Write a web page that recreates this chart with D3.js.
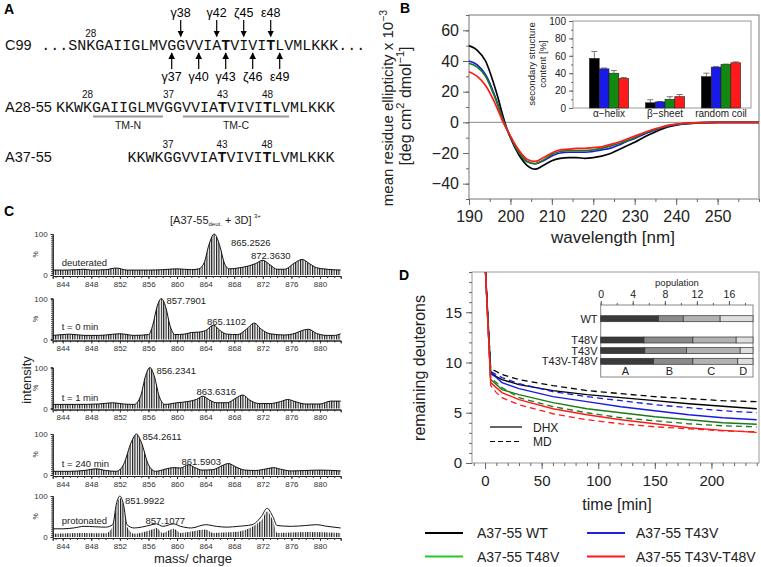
<!DOCTYPE html>
<html><head><meta charset="utf-8">
<script src="https://cdn.jsdelivr.net/npm/d3@7"></script>
<style>body{margin:0;background:#fff} svg{display:block;font-family:"Liberation Sans",Arial,sans-serif}</style>
</head><body><svg id="c" width="761" height="567"></svg>
<script>
// ---------------- DATA ----------------
// Panel A: sequences
const seqNames = ["C99", "A28-55", "A37-55"];
const seqStrings = ["...SNKGAIIGLMVGGVVIATVIVITLVMLKKK...", "KKWKGAIIGLMVGGVVIATVIVITLVMLKKK", "KKWKGGVVIATVIVITLVMLKKK"];
const seqFirstResidue = [23, 25, 33];
const seqNumberLabels = [[28], [28, 37, 43, 48], [37, 43, 48]];
const boldResidues = [43, 48];
const cleavageAbove = [["γ38", 38], ["γ42", 42], ["ζ45", 45], ["ε48", 48]];
const cleavageBelow = [["γ37", 37], ["γ40", 40], ["γ43", 43], ["ζ46", 46], ["ε49", 49]];
const tmSegments = [["TM-N", 29, 36], ["TM-C", 39, 50]];

// Panel B: CD spectra
const wavelength = [190,192,194,196,197,198,199,200,202,204,206,208,210,212,214,216,218,220,222,224,226,228,230,232,234,236,238,240,242,245,250,255,260];
const cdWT    = [50,47,40,25,16,6,-3,-10,-21,-28,-30.5,-28,-25,-23.5,-23,-23,-23.5,-23,-22,-20.5,-18,-15.5,-13,-10,-7.5,-5,-3,-1.8,-1,-0.4,0,0,0];
const cdT43V  = [40,37.5,31,19,11.5,3.5,-3.5,-9.5,-19.5,-25.5,-27,-25,-22,-20,-19.5,-19.5,-19.5,-19,-18,-17,-15,-12.5,-10.5,-8,-6,-4,-2.5,-1.5,-0.8,-0.3,0,0,0];
const cdT48V  = [38.5,36,30,18,11,3,-3.5,-9.5,-19.5,-25.5,-27,-24.5,-21,-19,-18.5,-18.5,-18.5,-18,-17,-15.5,-14,-12,-10,-7.5,-5.5,-3.8,-2.3,-1.4,-0.7,-0.3,0,0,0];
const cdDouble= [33,30,24,14,8,1.5,-4,-9,-18,-24,-25.5,-23,-20,-18,-17.5,-17,-17,-16.5,-16,-14.5,-13,-11,-9,-7,-5,-3.5,-2,-1.2,-0.6,-0.2,0,0,0];
const seriesNames = ["A37-55 WT", "A37-55 T43V", "A37-55 T48V", "A37-55 T43V-T48V"];
const seriesColors = ["#000000", "#1a1ae6", "#1a7a1a", "#ff1a1a"];
const legendColors = ["#000000", "#2020e0", "#22cc22", "#ff1a1a"];

// Panel B inset: secondary structure content
const structCats = ["α−helix", "β−sheet", "random coil"];
const structWT     = [57, 6, 36];
const structT43V   = [45, 7, 47];
const structT48V   = [40, 10, 50];
const structDouble = [34, 13, 52];
const structErrWT     = [65, 9.5, 40];
const structErrT43V   = [46, 7.5, 47.5];
const structErrT48V   = [43, 13, 50.5];
const structErrDouble = [35, 15.5, 53];

// Panel C: mass spectra envelopes [m/z, %]
const specDeuterated = [[842.6,12],[844,12],[846,13],[847,14],[848,12],[850,13],[851.5,17],[853,12],[856,12],[858,13],[860,15],[862,13],[863,15],[863.8,30],[864.4,70],[865.2,100],[866,70],[866.6,30],[867.3,15],[868.5,17],[870,22],[871,28],[872,36],[873,25],[874,14],[875,14],[876.5,30],[877.5,38],[878.5,28],[879.5,18],[881,14],[882.9,12]];
const specT0 = [[842.6,10],[844,12],[845,13],[847,10],[849,10],[850,11],[852,14],[854,10],[856,12],[856.6,35],[857.2,80],[857.8,100],[858.4,80],[859,35],[859.7,12],[861,13],[862,17],[863,18],[864,22],[865.1,35],[866,22],[867,13],[868.5,12],[869.7,25],[870.8,40],[871.8,25],[873,14],[875,11],[876.5,15],[877.5,22],[878.4,25],[879.5,15],[881,10],[882,10],[882.9,14]];
const specT1 = [[842.6,10],[846,10],[849,11],[851,14],[852.5,11],[854,10],[854.9,30],[855.6,80],[856.2,100],[856.8,80],[857.5,30],[858.3,10],[860,14],[861.5,17],[862.7,22],[863.6,30],[864.6,20],[865.5,14],[867,14],[868.2,25],[869.2,33],[870.2,20],[871.5,12],[873,12],[874.5,17],[875.5,22],[876.5,17],[878,11],[880,11],[881.5,18],[882.9,18]];
const specT240 = [[842.6,9],[845,9],[847,11],[848.7,15],[850,11],[851.5,9],[852.5,25],[853.6,80],[854.3,100],[855,80],[856,25],[857,9],[858.5,15],[859.5,18],[860.5,17],[861.6,25],[862.5,18],[863.5,12],[865,13],[866.2,22],[867.2,28],[868.2,20],[869.5,12],[871,11],[872.5,15],[873.5,18],[874.5,14],[876,10],[878,11],[880,12],[882.9,10]];
const specProtEnvelope = [[842.6,20],[844,20],[845.5,22],[847,26],[848.5,25],[850,24],[851,30],[851.5,80],[852,100],[852.5,80],[853,30],[854,22],[855,24],[856.5,30],[857.1,32],[858,26],[859.5,32],[860.5,26],[862,22],[864,30],[865.5,26],[867,24],[868.5,26],[870.5,30],[871.8,50],[872.6,70],[873.4,50],[874,28],[876,26],[878,28],[879.5,30],[881,26],[882.9,22]];
const specProtSticks = [[842.6,8],[847,10],[850,9],[851,25],[851.5,75],[852,96],[852.5,75],[853,25],[854,8],[856.5,18],[857.1,22],[858,10],[859.5,20],[860.5,10],[864,18],[865,10],[868,12],[871.8,40],[872.6,62],[873.4,40],[874,10],[878,12],[882.9,10]];
const specConditions = ["deuterated", "t = 0 min", "t = 1 min", "t = 240 min", "protonated"];
const specPeakLabels = [["865.2526","872.3630"],["857.7901","865.1102"],["856.2341","863.6316"],["854.2611","861.5903"],["851.9922","857.1077"]];
const mzTicks = [844,848,852,856,860,864,868,872,876,880];

// Panel D: remaining deuterons
const timeMin = [0,5,10,15,30,60,90,120,150,180,210,240];
const dhxWT     = [20,9.0,8.6,8.3,7.8,7.2,6.8,6.5,6.2,5.9,5.65,5.4];
const mdWT      = [20,9.4,9.1,8.8,8.3,7.7,7.2,6.9,6.6,6.4,6.2,6.1];
const dhxT43V   = [20,8.9,8.5,8.0,7.4,6.6,6.1,5.6,5.2,4.8,4.5,4.3];
const mdT43V    = [20,9.1,8.8,8.5,7.9,7.1,6.6,6.2,5.8,5.5,5.2,5.0];
const dhxT48V   = [20,8.3,7.8,7.3,6.8,6.0,5.4,5.0,4.6,4.3,4.0,3.85];
const mdT48V    = [20,8.5,8.0,7.5,6.5,5.6,5.0,4.5,4.2,3.9,3.7,3.6];
const dhxDouble = [20,8.0,7.5,7.0,6.3,5.4,4.8,4.3,3.9,3.5,3.25,3.05];
const mdDouble  = [20,7.7,7.0,6.5,5.8,4.9,4.3,3.9,3.6,3.4,3.2,3.1];

// Panel D inset: population of deuteron classes
const popRows = ["WT", "T48V", "T43V", "T43V-T48V"];
const popClasses = ["A", "B", "C", "D"];
const popA = [7.2, 5.4, 5.5, 6.6];
const popB = [3.1, 6.1, 5.2, 4.9];
const popC = [4.6, 5.4, 6.7, 5.6];
const popD = [4.1, 2.1, 1.6, 1.9];
const popTicks = [0, 4, 8, 12, 16];

// ---------------- DRAW ----------------
const svg = d3.select("#c");
const defs = svg.append("defs");
defs.append("marker").attr("id","ah").attr("viewBox","0 0 10 10").attr("refX",9).attr("refY",5)
  .attr("markerWidth",5.5).attr("markerHeight",6).attr("markerUnits","strokeWidth").attr("orient","auto")
  .append("path").attr("d","M0,0L10,5L0,10z").attr("fill","#000");
const hatch = defs.append("pattern").attr("id","hatch").attr("patternUnits","userSpaceOnUse")
  .attr("width",2.4).attr("height",10);
hatch.append("rect").attr("width",2.4).attr("height",10).attr("fill","#fff");
hatch.append("rect").attr("width",1.1).attr("height",10).attr("fill","#111");

function panelLabel(t, x, y){
  svg.append("text").attr("x",x).attr("y",y).attr("font-size",14).attr("font-weight","bold").text(t);
}

// ===== Panel A =====
panelLabel("A", 4, 14);
const CH = 9;
const seqStart = [41.2, 56, 127.5];
const seqBase = [49.5, 111.5, 161.5];
const numBase = [36.5, 98, 148];
function seqX(r, res){ return seqStart[r] + (res - seqFirstResidue[r] + 0.5) * CH; }
seqNames.forEach((nm, r) => {
  svg.append("text").attr("x",5).attr("y",seqBase[r]).attr("font-size",14.5).attr("fill","#111").text(nm);
  const t = svg.append("text").attr("x",seqStart[r]).attr("y",seqBase[r])
    .attr("font-family","'Liberation Mono','Courier New',monospace").attr("font-size",15).attr("fill","#111");
  const s = seqStrings[r];
  let buf = "";
  for (let i = 0; i < s.length; i++){
    const res = seqFirstResidue[r] + i;
    const isBold = boldResidues.includes(res) && s[i] === "T";
    if (isBold){
      if (buf) t.append("tspan").text(buf); buf = "";
      t.append("tspan").attr("font-weight","bold").text(s[i]);
    } else buf += s[i];
  }
  if (buf) t.append("tspan").text(buf);
  seqNumberLabels[r].forEach(n => {
    svg.append("text").attr("x",seqX(r,n)).attr("y",numBase[r]).attr("text-anchor","middle")
      .attr("font-size",10).attr("fill","#111").text(n);
  });
});
cleavageAbove.forEach(([lab,res]) => {
  const x = seqX(0,res);
  svg.append("text").attr("x",x).attr("y",17).attr("text-anchor","middle").attr("font-size",12.5).text(lab);
  svg.append("line").attr("x1",x).attr("x2",x).attr("y1",20).attr("y2",36.5).attr("stroke","#000").attr("stroke-width",1.2).attr("marker-end","url(#ah)");
});
cleavageBelow.forEach(([lab,res]) => {
  const x = seqX(0,res);
  svg.append("text").attr("x",x).attr("y",81).attr("text-anchor","middle").attr("font-size",12.5).text(lab);
  svg.append("line").attr("x1",x).attr("x2",x).attr("y1",69).attr("y2",53).attr("stroke","#000").attr("stroke-width",1.2).attr("marker-end","url(#ah)");
});
tmSegments.forEach(([lab,a,b]) => {
  const x1 = seqX(1,a) - CH/2 + 1, x2 = seqX(1,b) + CH/2 - 1;
  svg.append("line").attr("x1",x1).attr("x2",x2).attr("y1",116.5).attr("y2",116.5).attr("stroke","#999").attr("stroke-width",2.2);
  svg.append("text").attr("x",(x1+x2)/2).attr("y",129).attr("text-anchor","middle").attr("font-size",10.5).attr("fill","#222").text(lab);
});

// ===== Panel B =====
panelLabel("B", 400, 13);
const bL = 469, bR = 759, bT = 15, bB = 199;
const xB = d3.scaleLinear().domain([190, 260]).range([bL, bR]);
const yB = d3.scaleLinear().domain([-50, 70]).range([bB, bT]);
const gB = svg.append("g");
gB.append("line").attr("x1",bL).attr("x2",bR).attr("y1",yB(0)).attr("y2",yB(0)).attr("stroke","#888").attr("stroke-width",1);
gB.append("rect").attr("x",bL).attr("y",bT).attr("width",bR-bL).attr("height",bB-bT).attr("fill","none").attr("stroke","#777").attr("stroke-width",1);
const axBY = gB.append("g").attr("transform",`translate(${bL},0)`)
  .call(d3.axisLeft(yB).tickValues([-40,-20,0,20,40,60]).tickSize(6).tickPadding(4));
gB.append("g").attr("transform",`translate(${bL},0)`)
  .call(d3.axisLeft(yB).tickValues(d3.range(-50,71,10)).tickSize(3).tickFormat(""));
const axBX = gB.append("g").attr("transform",`translate(0,${bB})`)
  .call(d3.axisBottom(xB).tickValues([190,200,210,220,230,240,250]).tickSize(6).tickPadding(6));
gB.append("g").attr("transform",`translate(0,${bB})`)
  .call(d3.axisBottom(xB).tickValues(d3.range(190,261,5)).tickSize(3).tickFormat(""));
gB.selectAll(".domain").remove();
gB.selectAll(".tick line").attr("stroke","#666");
[axBY, axBX].forEach(a => a.selectAll("text").attr("font-size",16).attr("fill","#222").attr("font-family","'Liberation Sans',Arial,sans-serif"));
const cdSeries = [cdWT, cdT43V, cdT48V, cdDouble];
const cdLine = d3.line().x((d,i) => xB(wavelength[i])).y(d => yB(d)).curve(d3.curveMonotoneX);
cdSeries.forEach((s,k) => {
  gB.append("path").attr("d",cdLine(s)).attr("fill","none").attr("stroke",seriesColors[k]).attr("stroke-width",1.7);
});
// axis titles
const yt = svg.append("text").attr("transform","translate(393,108) rotate(-90)").attr("text-anchor","middle").attr("font-size",15).attr("fill","#222");
yt.append("tspan").text("mean residue ellipticity x 10");
yt.append("tspan").attr("dy",-6).attr("font-size",10.5).text("−3");
const yt2 = svg.append("text").attr("transform","translate(411,106) rotate(-90)").attr("text-anchor","middle").attr("font-size",16).attr("fill","#222");
yt2.append("tspan").text("[deg cm");
yt2.append("tspan").attr("dy",-7).attr("font-size",11).text("2");
yt2.append("tspan").attr("dy",7).text(" dmol");
yt2.append("tspan").attr("dy",-7).attr("font-size",11).text("−1");
yt2.append("tspan").attr("dy",7).text("]");
svg.append("text").attr("x",613).attr("y",243).attr("text-anchor","middle").attr("font-size",17).attr("fill","#222").text("wavelength [nm]");

// Inset B
const iL = 573, iR = 751, iT = 21, iB = 108;
const gI = svg.append("g");
gI.append("rect").attr("x",iL).attr("y",iT).attr("width",iR-iL).attr("height",iB-iT).attr("fill","#fff").attr("stroke","#999").attr("stroke-width",1);
const yI = d3.scaleLinear().domain([0,100]).range([iB, iT]);
const x0I = d3.scaleBand().domain(structCats).range([581, 749]).paddingInner(0.3).paddingOuter(0.15);
const x1I = d3.scaleBand().domain(seriesNames).range([0, x0I.bandwidth()]).padding(0);
const axIY = gI.append("g").attr("transform",`translate(${iL},0)`)
  .call(d3.axisLeft(yI).tickValues([0,20,40,60,80,100]).tickSize(4).tickPadding(3));
gI.append("g").attr("transform",`translate(${iL},0)`)
  .call(d3.axisLeft(yI).tickValues(d3.range(0,101,10)).tickSize(2).tickFormat(""));
gI.selectAll(".domain").remove();
gI.selectAll(".tick line").attr("stroke","#666");
axIY.selectAll("text").attr("font-size",10).attr("fill","#222");
const structVals = [structWT, structT43V, structT48V, structDouble];
const structErrs = [structErrWT, structErrT43V, structErrT48V, structErrDouble];
structCats.forEach((c,ci) => {
  seriesNames.forEach((sn,si) => {
    const x = x0I(c) + x1I(sn), w = x1I.bandwidth();
    const v = structVals[si][ci], e = structErrs[si][ci];
    gI.append("line").attr("x1",x+w/2).attr("x2",x+w/2).attr("y1",yI(v)).attr("y2",yI(e)).attr("stroke","#777").attr("stroke-width",1);
    gI.append("line").attr("x1",x+w/2-3).attr("x2",x+w/2+3).attr("y1",yI(e)).attr("y2",yI(e)).attr("stroke","#777").attr("stroke-width",1);
    gI.append("rect").attr("x",x).attr("y",yI(v)).attr("width",w).attr("height",yI(0)-yI(v))
      .attr("fill",seriesColors[si] === "#1a7a1a" ? "#128a12" : seriesColors[si]).attr("stroke","#222").attr("stroke-width",0.6);
  });
  gI.append("text").attr("x",x0I(c)+x0I.bandwidth()/2).attr("y",117).attr("text-anchor","middle").attr("font-size",10).attr("fill","#222").text(c);
});
const il = gI.append("text").attr("transform","translate(535,64) rotate(-90)").attr("text-anchor","middle").attr("font-size",9.5).attr("fill","#222");
il.append("tspan").attr("x",0).attr("dy",0).text("secondary structure");
il.append("tspan").attr("x",0).attr("dy",11).text("content [%]");

// ===== Panel C =====
panelLabel("C", 4, 216);
const xS = d3.scaleLinear().domain([842.6, 882.9]).range([52.7, 340.7]);
const specBase = [275, 339.5, 408.5, 475, 537];
const specH = 41;
const specMain = [specDeuterated, specT0, specT1, specT240, specProtSticks];
const specCondPos = [[61.7,266],[61.7,330],[61.7,401],[61.7,467],[61.7,523.5]];
const specPeakPos = [[[231,246],[251,259]],[[166.5,304],[207,325]],[[156.5,374],[196.5,395]],[[142.5,440],[181.5,465]],[[125,503.5],[145.5,523.5]]];
specMain.forEach((sp, p) => {
  const b = specBase[p];
  const yS = d3.scaleLinear().domain([0,100]).range([b, b - specH]);
  const g = svg.append("g");
  const area = d3.area().x(d => xS(d[0])).y0(b).y1(d => yS(d[1])).curve(d3.curveMonotoneX);
  const line = d3.line().x(d => xS(d[0])).y(d => yS(d[1])).curve(d3.curveMonotoneX);
  g.append("path").attr("d",area(sp)).attr("fill","url(#hatch)");
  const env = p === 4 ? specProtEnvelope : sp;
  g.append("path").attr("d",line(env)).attr("fill","none").attr("stroke","#111").attr("stroke-width",1);
  const ax = g.append("g").attr("transform",`translate(0,${b+1})`)
    .call(d3.axisBottom(xS).tickValues(mzTicks).tickSize(3).tickPadding(2));
  g.append("g").attr("transform",`translate(0,${b+1})`)
    .call(d3.axisBottom(xS).tickValues(d3.range(843,883,1)).tickSize(2).tickFormat(""));
  ax.selectAll("text").attr("font-size",8).attr("fill","#333");
  const ay = g.append("g").attr("transform",`translate(52.7,0)`)
    .call(d3.axisLeft(yS).tickValues([0,100]).tickSize(2).tickPadding(3));
  g.append("g").attr("transform",`translate(52.7,0)`)
    .call(d3.axisLeft(yS).tickValues(d3.range(0,101,5)).tickSize(1.5).tickFormat(""));
  ay.selectAll("text").attr("font-size",8).attr("fill","#333");
  g.selectAll(".domain").attr("stroke","#222");
  g.selectAll(".tick line").attr("stroke","#333");
  g.append("text").attr("transform",`translate(38,${b - specH/2}) rotate(-90)`).attr("text-anchor","middle").attr("font-size",7).attr("fill","#333").text("%");
  g.append("text").attr("x",specCondPos[p][0]).attr("y",specCondPos[p][1]).attr("font-size",9.5).attr("fill","#222").text(specConditions[p]);
  specPeakLabels[p].forEach((lab, j) => {
    g.append("text").attr("x",specPeakPos[p][j][0]).attr("y",specPeakPos[p][j][1]).attr("font-size",9.5).attr("fill","#222").text(lab);
  });
});
const ct = svg.append("text").attr("x",170).attr("y",223.5).attr("font-size",11).attr("fill","#222");
ct.append("tspan").text("[A37-55");
ct.append("tspan").attr("dy",2.5).attr("font-size",6).text("deut.");
ct.append("tspan").attr("dy",-2.5).text(" + 3D]");
svg.append("text").attr("x",254).attr("y",218).attr("font-size",6).attr("fill","#222").text("3+");
svg.append("text").attr("transform","translate(31,380) rotate(-90)").attr("text-anchor","middle").attr("font-size",13).attr("fill","#222").text("intensity");
svg.append("text").attr("x",193).attr("y",563).attr("text-anchor","middle").attr("font-size",13).attr("fill","#222").text("mass/ charge");

// ===== Panel D =====
panelLabel("D", 399, 280);
const dL = 472, dR = 759, dT = 272, dB = 463;
const xD = d3.scaleLinear().domain([-11.5, 242]).range([dL, dR]);
const yD = d3.scaleLinear().domain([0, 19]).range([dB, dT]);
const gD = svg.append("g");
gD.append("rect").attr("x",dL).attr("y",dT).attr("width",dR-dL).attr("height",dB-dT).attr("fill","none").attr("stroke","#999").attr("stroke-width",1);
const axDY = gD.append("g").attr("transform",`translate(${dL},0)`)
  .call(d3.axisLeft(yD).tickValues([0,5,10,15]).tickSize(6).tickPadding(4));
gD.append("g").attr("transform",`translate(${dL},0)`)
  .call(d3.axisLeft(yD).tickValues(d3.range(0,20,1)).tickSize(3).tickFormat(""));
const axDX = gD.append("g").attr("transform",`translate(0,${dB})`)
  .call(d3.axisBottom(xD).tickValues([0,50,100,150,200]).tickSize(6).tickPadding(6));
gD.append("g").attr("transform",`translate(0,${dB})`)
  .call(d3.axisBottom(xD).tickValues(d3.range(-10,241,10)).tickSize(3).tickFormat(""));
gD.selectAll(".domain").remove();
gD.selectAll(".tick line").attr("stroke","#666");
[axDY, axDX].forEach(a => a.selectAll("text").attr("font-size",15).attr("fill","#222"));
defs.append("clipPath").attr("id","clipD").append("rect").attr("x",dL).attr("y",dT).attr("width",dR-dL).attr("height",dB-dT);
const gDL = gD.append("g").attr("clip-path","url(#clipD)");
const dLine = d3.line().x((d,i) => xD(timeMin[i])).y(d => yD(d));
const dhxS = [dhxWT, dhxT43V, dhxT48V, dhxDouble];
const mdS = [mdWT, mdT43V, mdT48V, mdDouble];
[0,1,2,3].forEach(k => {
  gDL.append("path").attr("d",dLine(mdS[k])).attr("fill","none").attr("stroke",seriesColors[k]).attr("stroke-width",1.3).attr("stroke-dasharray","6,4");
  gDL.append("path").attr("d",dLine(dhxS[k])).attr("fill","none").attr("stroke",seriesColors[k]).attr("stroke-width",1.4);
});
gD.append("line").attr("x1",490).attr("x2",522).attr("y1",427).attr("y2",427).attr("stroke","#000").attr("stroke-width",1.2);
gD.append("text").attr("x",533).attr("y",431.5).attr("font-size",12).attr("fill","#222").text("DHX");
gD.append("line").attr("x1",490).attr("x2",522).attr("y1",441.5).attr("y2",441.5).attr("stroke","#000").attr("stroke-width",1.2).attr("stroke-dasharray","5,3");
gD.append("text").attr("x",533).attr("y",446).attr("font-size",12).attr("fill","#222").text("MD");
svg.append("text").attr("transform","translate(425,368) rotate(-90)").attr("text-anchor","middle").attr("font-size",16).attr("fill","#222").text("remaining deuterons");
svg.append("text").attr("x",617).attr("y",510).attr("text-anchor","middle").attr("font-size",16).attr("fill","#222").text("time [min]");

// Inset D
const pL = 600.7, pR = 753, pT = 305, pB = 377;
const gP = svg.append("g");
gP.append("rect").attr("x",pL).attr("y",pT).attr("width",pR-pL).attr("height",pB-pT).attr("fill","#fff").attr("stroke","#888").attr("stroke-width",1);
const xP = d3.scaleLinear().domain([0,19]).range([pL,pR]);
const yP = d3.scalePoint().domain(["WT","_gap","T48V","T43V","T43V-T48V"]).range([318.7, 361.3]);
const axP = gP.append("g").attr("transform",`translate(0,${pT})`)
  .call(d3.axisTop(xP).tickValues(popTicks).tickSize(4).tickPadding(3));
gP.append("g").attr("transform",`translate(0,${pT})`)
  .call(d3.axisTop(xP).tickValues(d3.range(0,19,2)).tickSize(2).tickFormat(""));
gP.selectAll(".domain").remove();
gP.selectAll(".tick line").attr("stroke","#555");
axP.selectAll("text").attr("font-size",10.5).attr("fill","#222");
gP.append("text").attr("x",677).attr("y",285.5).attr("text-anchor","middle").attr("font-size",9.5).attr("fill","#222").text("population");
const popSeg = [popA, popB, popC, popD];
const popFill = ["#3a3a3a", "#8a8a8a", "#b2b2b2", "#dedede"];
popRows.forEach((rw, ri) => {
  let acc = 0;
  const y = yP(rw);
  popSeg.forEach((seg, si) => {
    gP.append("rect").attr("x",xP(acc)).attr("y",y-3).attr("width",xP(acc+seg[ri])-xP(acc)).attr("height",6)
      .attr("fill",popFill[si]).attr("stroke","#333").attr("stroke-width",0.7);
    acc += seg[ri];
  });
  gP.append("text").attr("x",597.5).attr("y",y+4).attr("text-anchor","end").attr("font-size",11).attr("fill","#222").text(rw);
});
const classMid = popClasses.map((c, si) => {
  const starts = popRows.map((r, ri) => popSeg.slice(0, si).reduce((s, a) => s + a[ri], 0));
  const ends = popRows.map((r, ri) => starts[ri] + popSeg[si][ri]);
  return (d3.mean(starts) + d3.mean(ends)) / 2;
});
popClasses.forEach((c, si) => {
  gP.append("text").attr("x",xP(classMid[si])).attr("y",375).attr("text-anchor","middle").attr("font-size",11).attr("fill","#222").text(c);
});

// Bottom legend
const legX = [[425,463,477],[587,625,636]];
const legY = [533, 556.5];
seriesNames.forEach((nm, k) => {
  const col = [0,1,0,1][k], row = [0,0,1,1][k];
  const pos = legX[col], y = legY[row];
  svg.append("line").attr("x1",pos[0]).attr("x2",pos[1]).attr("y1",y).attr("y2",y).attr("stroke",legendColors[k]).attr("stroke-width",1.8);
  svg.append("text").attr("x",pos[2]).attr("y",y+5).attr("font-size",14).attr("fill","#222").text(nm);
});
</script></body></html>
